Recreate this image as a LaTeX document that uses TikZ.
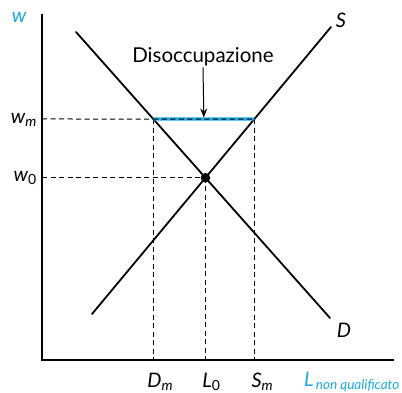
\documentclass[tikz,border=0pt]{standalone}
\usepackage{fontspec}
\setmainfont{Lato}
\usetikzlibrary{arrows.meta,positioning,calc}
\definecolor{skyblue}{HTML}{1AA9E6}
\tikzset{
  >=Stealth,
  curve/.style={line width=1.8pt, line cap=round},
  axisline/.style={line width=1.2pt},
  guide/.style={line width=1pt, dash pattern=on 5pt off 3.5pt},
  gapline/.style={skyblue, line width=3.4pt},
  varlab/.style={font=\fontsize{20}{24}\selectfont\itshape, inner sep=1pt},
  note/.style={font=\fontsize{20.5}{24}\selectfont, inner sep=1pt},
}

\begin{document}
\begin{tikzpicture}[x=1pt,y=-1pt]
  \useasboundingbox (0,0) rectangle (402,393);

  % axes
  \coordinate (top) at (42,14);
  \coordinate (orig) at (42,360);
  \coordinate (right) at (394,360);
  \draw[axisline] (top) -- (orig) -- (right);

  % demand and supply
  \coordinate (d1) at (76,32);
  \coordinate (d2) at (330,318);
  \coordinate (s1) at (92,314);
  \coordinate (s2) at (331,27);
  \draw[curve] (d1) -- (d2);
  \draw[curve] (s1) -- (s2);

  % equilibrium and minimum wage points
  \coordinate (eq) at (intersection of d1--d2 and s1--s2);
  \coordinate (wm) at (42,119);
  \coordinate (dm) at (intersection of d1--d2 and wm--{394,119});
  \coordinate (sm) at (intersection of s1--s2 and wm--{394,119});

  % guides
  \draw[guide] (wm) -- (sm);
  \draw[guide] (orig |- eq) -- (eq);
  \draw[guide] (dm) -- (dm |- orig);
  \draw[guide] (eq) -- (eq |- orig);
  \draw[guide] (sm) -- (sm |- orig);

  % unemployment gap
  \draw[gapline] (dm) -- (sm);
  \draw[guide] (dm) -- (sm);
  \fill (eq) circle (4.8);

  % labels
  \node[varlab, text=skyblue] (wlab) at (19,17) {w};
  \node[varlab, anchor=east] (wmlab) at (38,120) {w\textsubscript{m}};
  \node[varlab, anchor=east] (w0lab) at (38,178) {w\textsubscript{\upshape 0}};
  \node[varlab] (slab) at (341,20) {S};
  \node[varlab] (dlab) at (344,330) {D};
  \node[varlab] (dmlab) at ($(dm |- orig)+(7,22)$) {D\textsubscript{m}};
  \node[varlab] (l0lab) at ($(eq |- orig)+(6,22)$) {L\textsubscript{\upshape 0}};
  \node[varlab] (smlab) at ($(sm |- orig)+(8,22)$) {S\textsubscript{m}};
  \node[varlab, text=skyblue, anchor=east] (llab) at (401,382) {L\textsubscript{\fontsize{13.5}{16}\selectfont\,non qualificato}};

  \node[note] (dis) at (203,57) {Disoccupazione};
  \coordinate (gapmid) at ($(dm)!0.5!(sm)$);
  \draw[line width=1pt, -{Stealth[length=9pt,width=7pt]}] (dis.south) -- ($(gapmid)+(0,-1.5)$);
\end{tikzpicture}
\end{document}
